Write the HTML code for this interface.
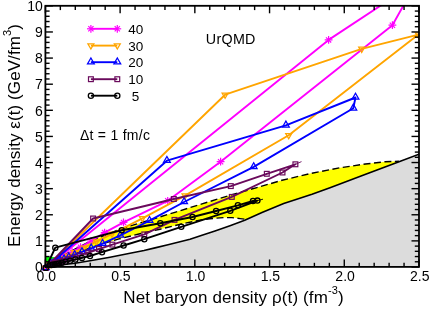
<!DOCTYPE html>
<html><head><meta charset="utf-8"><style>
html,body{margin:0;padding:0;background:#fff;}
body{width:429px;height:309px;position:relative;overflow:hidden;font-family:"Liberation Sans",sans-serif;color:#000;}
</style></head><body>
<svg width="429" height="309" viewBox="0 0 429 309" style="position:absolute;left:0;top:0">
<defs><clipPath id="cp"><rect x="45.4" y="5.8" width="373.6" height="261.1"/></clipPath><clipPath id="cp2"><rect x="40" y="5.8" width="379.9" height="265.1"/></clipPath></defs>
<g clip-path="url(#cp)">
<polygon fill="#dcdcdc" points="45.4,266.6 60.0,265.0 75.0,263.2 90.0,260.7 110.0,257.2 130.0,253.3 144.0,250.5 155.0,247.9 168.0,244.8 180.0,241.8 190.0,239.2 202.0,235.2 215.0,230.9 230.0,225.7 244.7,220.3 262.0,212.5 283.7,203.5 296.0,199.6 312.0,194.3 330.0,187.7 365.0,174.5 399.0,161.7 419.0,154.2 419,267 45.4,267"/>
<polygon fill="#ffff00" points="45.4,266.6 60.0,257.5 75.0,249.0 90.0,241.5 105.0,235.0 120.0,229.3 130.0,226.0 145.0,221.5 160.0,216.9 174.0,212.6 190.0,207.6 202.0,203.9 232.0,194.7 256.8,187.6 282.0,180.3 310.0,173.6 340.0,167.8 365.5,164.0 385.0,161.8 399.0,161.2 399.0,161.7 399.0,161.7 365.0,174.5 330.0,187.7 312.0,194.3 296.0,199.6 283.7,203.5 262.0,212.5 246.6,219.4 240.0,218.6 232.0,217.6 223.6,217.6 210.0,218.7 200.0,220.2 185.0,223.2 160.0,229.2 140.0,233.8 120.0,238.7 105.0,243.0 90.0,248.0 75.0,254.0 60.0,260.5 45.4,266.6"/>
<path d="M45.4 256.8 L54 256.9 C57.5 257.3 60 259 61.2 261.5 L61.5 263.5 L45.4 266.6Z" fill="#00ff00"/>
<polyline fill="none" stroke="#000" stroke-width="1.6" points="45.4,266.6 60.0,265.0 75.0,263.2 90.0,260.7 110.0,257.2 130.0,253.3 144.0,250.5 155.0,247.9 168.0,244.8 180.0,241.8 190.0,239.2 202.0,235.2 215.0,230.9 230.0,225.7 244.7,220.3 262.0,212.5 283.7,203.5 296.0,199.6 312.0,194.3 330.0,187.7 365.0,174.5 399.0,161.7 419.0,154.2"/>
<polyline fill="none" stroke="#000" stroke-width="1.4" stroke-dasharray="7 3.5" points="45.4,266.6 60.0,257.5 75.0,249.0 90.0,241.5 105.0,235.0 120.0,229.3 130.0,226.0 145.0,221.5 160.0,216.9 174.0,212.6 190.0,207.6 202.0,203.9 232.0,194.7 256.8,187.6 282.0,180.3 310.0,173.6 340.0,167.8 365.5,164.0 385.0,161.8 399.0,161.2"/>
<polyline fill="none" stroke="#000" stroke-width="1.4" stroke-dasharray="7 3.5" points="45.4,266.6 60.0,260.5 75.0,254.0 90.0,248.0 105.0,243.0 120.0,238.7 140.0,233.8 160.0,229.2 185.0,223.2 200.0,220.2 210.0,218.7 223.6,217.6 232.0,217.6 240.0,218.6 246.6,219.4"/>
</g>
<g clip-path="url(#cp2)">
<polyline fill="none" stroke="#ff00ff" stroke-width="1.90" stroke-linejoin="round" points="45.8,268.0 328.6,39.9 416.7,-18.2 392.4,25.2 220.6,161.7 167.7,200.8 123.5,222.4 104.6,232.6 91.0,241.0 80.5,247.2 72.0,252.0 65.6,255.5 60.8,258.2 57.1,260.2 54.3,261.7 52.1,262.9 50.5,263.8 49.3,264.5 48.4,265.0"/>
<g stroke="#ff00ff" stroke-width="1.2"><line x1="41.9" y1="268.0" x2="49.7" y2="268.0"/><line x1="43.2" y1="265.4" x2="48.4" y2="270.6"/><line x1="45.8" y1="264.1" x2="45.8" y2="271.9"/><line x1="48.4" y1="265.4" x2="43.2" y2="270.6"/></g>
<g stroke="#ff00ff" stroke-width="1.2"><line x1="324.7" y1="39.9" x2="332.5" y2="39.9"/><line x1="326.0" y1="37.3" x2="331.2" y2="42.5"/><line x1="328.6" y1="36.0" x2="328.6" y2="43.8"/><line x1="331.2" y1="37.3" x2="326.0" y2="42.5"/></g>
<g stroke="#ff00ff" stroke-width="1.2"><line x1="412.8" y1="-18.2" x2="420.6" y2="-18.2"/><line x1="414.1" y1="-20.8" x2="419.3" y2="-15.6"/><line x1="416.7" y1="-22.1" x2="416.7" y2="-14.3"/><line x1="419.3" y1="-20.8" x2="414.1" y2="-15.6"/></g>
<g stroke="#ff00ff" stroke-width="1.2"><line x1="388.5" y1="25.2" x2="396.3" y2="25.2"/><line x1="389.8" y1="22.6" x2="395.0" y2="27.8"/><line x1="392.4" y1="21.3" x2="392.4" y2="29.1"/><line x1="395.0" y1="22.6" x2="389.8" y2="27.8"/></g>
<g stroke="#ff00ff" stroke-width="1.2"><line x1="216.7" y1="161.7" x2="224.5" y2="161.7"/><line x1="218.0" y1="159.1" x2="223.2" y2="164.3"/><line x1="220.6" y1="157.8" x2="220.6" y2="165.6"/><line x1="223.2" y1="159.1" x2="218.0" y2="164.3"/></g>
<g stroke="#ff00ff" stroke-width="1.2"><line x1="163.8" y1="200.8" x2="171.6" y2="200.8"/><line x1="165.1" y1="198.2" x2="170.3" y2="203.4"/><line x1="167.7" y1="196.9" x2="167.7" y2="204.7"/><line x1="170.3" y1="198.2" x2="165.1" y2="203.4"/></g>
<g stroke="#ff00ff" stroke-width="1.2"><line x1="119.6" y1="222.4" x2="127.4" y2="222.4"/><line x1="120.9" y1="219.8" x2="126.1" y2="225.0"/><line x1="123.5" y1="218.5" x2="123.5" y2="226.3"/><line x1="126.1" y1="219.8" x2="120.9" y2="225.0"/></g>
<g stroke="#ff00ff" stroke-width="1.2"><line x1="100.7" y1="232.6" x2="108.5" y2="232.6"/><line x1="102.0" y1="230.0" x2="107.2" y2="235.2"/><line x1="104.6" y1="228.7" x2="104.6" y2="236.5"/><line x1="107.2" y1="230.0" x2="102.0" y2="235.2"/></g>
<g stroke="#ff00ff" stroke-width="1.2"><line x1="87.1" y1="241.0" x2="94.9" y2="241.0"/><line x1="88.4" y1="238.4" x2="93.6" y2="243.6"/><line x1="91.0" y1="237.1" x2="91.0" y2="244.9"/><line x1="93.6" y1="238.4" x2="88.4" y2="243.6"/></g>
<g stroke="#ff00ff" stroke-width="1.2"><line x1="76.6" y1="247.2" x2="84.4" y2="247.2"/><line x1="77.9" y1="244.6" x2="83.1" y2="249.8"/><line x1="80.5" y1="243.3" x2="80.5" y2="251.1"/><line x1="83.1" y1="244.6" x2="77.9" y2="249.8"/></g>
<g stroke="#ff00ff" stroke-width="1.2"><line x1="68.1" y1="252.0" x2="75.9" y2="252.0"/><line x1="69.4" y1="249.4" x2="74.6" y2="254.6"/><line x1="72.0" y1="248.1" x2="72.0" y2="255.9"/><line x1="74.6" y1="249.4" x2="69.4" y2="254.6"/></g>
<g stroke="#ff00ff" stroke-width="1.2"><line x1="61.7" y1="255.5" x2="69.5" y2="255.5"/><line x1="63.0" y1="252.9" x2="68.2" y2="258.1"/><line x1="65.6" y1="251.6" x2="65.6" y2="259.4"/><line x1="68.2" y1="252.9" x2="63.0" y2="258.1"/></g>
<g stroke="#ff00ff" stroke-width="1.2"><line x1="56.9" y1="258.2" x2="64.7" y2="258.2"/><line x1="58.1" y1="255.5" x2="63.4" y2="260.8"/><line x1="60.8" y1="254.3" x2="60.8" y2="262.1"/><line x1="63.4" y1="255.5" x2="58.1" y2="260.8"/></g>
<g stroke="#ff00ff" stroke-width="1.2"><line x1="53.2" y1="260.2" x2="61.0" y2="260.2"/><line x1="54.5" y1="257.6" x2="59.7" y2="262.8"/><line x1="57.1" y1="256.3" x2="57.1" y2="264.1"/><line x1="59.7" y1="257.6" x2="54.5" y2="262.8"/></g>
<g stroke="#ff00ff" stroke-width="1.2"><line x1="50.4" y1="261.7" x2="58.2" y2="261.7"/><line x1="51.7" y1="259.1" x2="56.9" y2="264.3"/><line x1="54.3" y1="257.8" x2="54.3" y2="265.6"/><line x1="56.9" y1="259.1" x2="51.7" y2="264.3"/></g>
<g stroke="#ff00ff" stroke-width="1.2"><line x1="48.2" y1="262.9" x2="56.0" y2="262.9"/><line x1="49.5" y1="260.3" x2="54.8" y2="265.5"/><line x1="52.1" y1="259.0" x2="52.1" y2="266.8"/><line x1="54.8" y1="260.3" x2="49.5" y2="265.5"/></g>
<g stroke="#ff00ff" stroke-width="1.2"><line x1="46.6" y1="263.8" x2="54.4" y2="263.8"/><line x1="47.9" y1="261.2" x2="53.1" y2="266.4"/><line x1="50.5" y1="259.9" x2="50.5" y2="267.7"/><line x1="53.1" y1="261.2" x2="47.9" y2="266.4"/></g>
<g stroke="#ff00ff" stroke-width="1.2"><line x1="45.4" y1="264.5" x2="53.2" y2="264.5"/><line x1="46.7" y1="261.8" x2="51.9" y2="267.1"/><line x1="49.3" y1="260.6" x2="49.3" y2="268.4"/><line x1="51.9" y1="261.8" x2="46.7" y2="267.1"/></g>
<g stroke="#ff00ff" stroke-width="1.2"><line x1="44.5" y1="265.0" x2="52.3" y2="265.0"/><line x1="45.7" y1="262.4" x2="51.0" y2="267.6"/><line x1="48.4" y1="261.1" x2="48.4" y2="268.9"/><line x1="51.0" y1="262.4" x2="45.7" y2="267.6"/></g>
<polyline fill="none" stroke="#ffa500" stroke-width="1.90" stroke-linejoin="round" points="45.8,268.0 225.1,94.7 361.7,48.9 418.4,34.6 288.7,135.3 185.0,195.6 142.4,218.3 112.0,233.8 96.4,241.6 84.0,247.7 74.5,252.4 67.5,255.8 62.2,258.4 58.2,260.4 55.1,261.9 52.8,263.0 51.0,263.9 49.7,264.5 48.6,265.0"/>
<path d="M42.8 266.3L48.8 266.3L45.8 271.5Z" fill="none" stroke="#ffa500" stroke-width="1.25"/>
<path d="M222.1 93.0L228.1 93.0L225.1 98.2Z" fill="none" stroke="#ffa500" stroke-width="1.25"/>
<path d="M358.7 47.2L364.7 47.2L361.7 52.4Z" fill="none" stroke="#ffa500" stroke-width="1.25"/>
<path d="M415.4 32.9L421.4 32.9L418.4 38.1Z" fill="none" stroke="#ffa500" stroke-width="1.25"/>
<path d="M285.7 133.6L291.7 133.6L288.7 138.8Z" fill="none" stroke="#ffa500" stroke-width="1.25"/>
<path d="M182.0 193.9L188.0 193.9L185.0 199.1Z" fill="none" stroke="#ffa500" stroke-width="1.25"/>
<path d="M139.4 216.6L145.4 216.6L142.4 221.8Z" fill="none" stroke="#ffa500" stroke-width="1.25"/>
<path d="M109.0 232.1L115.0 232.1L112.0 237.3Z" fill="none" stroke="#ffa500" stroke-width="1.25"/>
<path d="M93.4 239.9L99.4 239.9L96.4 245.1Z" fill="none" stroke="#ffa500" stroke-width="1.25"/>
<path d="M81.0 246.0L87.0 246.0L84.0 251.2Z" fill="none" stroke="#ffa500" stroke-width="1.25"/>
<path d="M71.5 250.7L77.5 250.7L74.5 255.9Z" fill="none" stroke="#ffa500" stroke-width="1.25"/>
<path d="M64.5 254.1L70.5 254.1L67.5 259.3Z" fill="none" stroke="#ffa500" stroke-width="1.25"/>
<path d="M59.2 256.7L65.2 256.7L62.2 261.9Z" fill="none" stroke="#ffa500" stroke-width="1.25"/>
<path d="M55.2 258.7L61.2 258.7L58.2 263.9Z" fill="none" stroke="#ffa500" stroke-width="1.25"/>
<path d="M52.1 260.2L58.1 260.2L55.1 265.4Z" fill="none" stroke="#ffa500" stroke-width="1.25"/>
<path d="M49.8 261.3L55.8 261.3L52.8 266.5Z" fill="none" stroke="#ffa500" stroke-width="1.25"/>
<path d="M48.0 262.2L54.0 262.2L51.0 267.4Z" fill="none" stroke="#ffa500" stroke-width="1.25"/>
<path d="M46.7 262.8L52.7 262.8L49.7 268.0Z" fill="none" stroke="#ffa500" stroke-width="1.25"/>
<path d="M45.6 263.3L51.6 263.3L48.6 268.5Z" fill="none" stroke="#ffa500" stroke-width="1.25"/>
<polyline fill="none" stroke="#0000ff" stroke-width="1.90" stroke-linejoin="round" points="45.8,268.0 166.9,160.7 285.9,125.3 355.5,97.5 353.3,108.3 253.7,166.9 184.1,202.0 149.5,220.6 120.3,235.3 102.6,243.7 91.2,248.3 82.0,251.9 74.7,254.9 68.8,257.2 64.1,259.1 60.4,260.6 57.4,261.8 55.0,262.8 53.1,263.5 51.5,264.1"/>
<path d="M42.4 269.7L49.2 269.7L45.8 263.8Z" fill="none" stroke="#0000ff" stroke-width="1.25"/>
<path d="M163.5 162.4L170.3 162.4L166.9 156.5Z" fill="none" stroke="#0000ff" stroke-width="1.25"/>
<path d="M282.5 127.0L289.3 127.0L285.9 121.1Z" fill="none" stroke="#0000ff" stroke-width="1.25"/>
<path d="M352.1 99.2L358.9 99.2L355.5 93.3Z" fill="none" stroke="#0000ff" stroke-width="1.25"/>
<path d="M349.9 110.0L356.7 110.0L353.3 104.1Z" fill="none" stroke="#0000ff" stroke-width="1.25"/>
<path d="M250.3 168.6L257.1 168.6L253.7 162.7Z" fill="none" stroke="#0000ff" stroke-width="1.25"/>
<path d="M180.7 203.7L187.5 203.7L184.1 197.8Z" fill="none" stroke="#0000ff" stroke-width="1.25"/>
<path d="M146.1 222.3L152.9 222.3L149.5 216.4Z" fill="none" stroke="#0000ff" stroke-width="1.25"/>
<path d="M116.9 237.0L123.7 237.0L120.3 231.1Z" fill="none" stroke="#0000ff" stroke-width="1.25"/>
<path d="M99.2 245.4L106.0 245.4L102.6 239.5Z" fill="none" stroke="#0000ff" stroke-width="1.25"/>
<path d="M87.8 250.0L94.6 250.0L91.2 244.1Z" fill="none" stroke="#0000ff" stroke-width="1.25"/>
<path d="M78.6 253.6L85.4 253.6L82.0 247.7Z" fill="none" stroke="#0000ff" stroke-width="1.25"/>
<path d="M71.3 256.6L78.1 256.6L74.7 250.7Z" fill="none" stroke="#0000ff" stroke-width="1.25"/>
<path d="M65.4 258.9L72.2 258.9L68.8 253.0Z" fill="none" stroke="#0000ff" stroke-width="1.25"/>
<path d="M60.7 260.8L67.5 260.8L64.1 254.9Z" fill="none" stroke="#0000ff" stroke-width="1.25"/>
<path d="M57.0 262.3L63.8 262.3L60.4 256.4Z" fill="none" stroke="#0000ff" stroke-width="1.25"/>
<path d="M54.0 263.5L60.8 263.5L57.4 257.6Z" fill="none" stroke="#0000ff" stroke-width="1.25"/>
<path d="M51.6 264.5L58.4 264.5L55.0 258.6Z" fill="none" stroke="#0000ff" stroke-width="1.25"/>
<path d="M49.7 265.2L56.5 265.2L53.1 259.3Z" fill="none" stroke="#0000ff" stroke-width="1.25"/>
<path d="M48.1 265.8L54.9 265.8L51.5 259.9Z" fill="none" stroke="#0000ff" stroke-width="1.25"/>
<polyline fill="none" stroke="#6a0a5c" stroke-width="1.90" stroke-linejoin="round" points="45.8,268.0 93.1,218.5 173.8,199.0 230.8,186.1 266.8,173.8 295.4,164.3 282.5,172.5 231.8,196.9 174.5,219.9 144.3,234.4 112.4,244.6 99.0,249.0 88.3,252.5 79.7,255.3 72.8,257.6 67.4,259.4 63.0,260.8 59.5,262.0 56.6,262.9 54.4,263.6 52.6,264.2"/>
<rect x="43.4" y="265.6" width="4.8" height="4.8" fill="none" stroke="#6a0a5c" stroke-width="1.20"/>
<rect x="90.7" y="216.1" width="4.8" height="4.8" fill="none" stroke="#6a0a5c" stroke-width="1.20"/>
<rect x="171.4" y="196.6" width="4.8" height="4.8" fill="none" stroke="#6a0a5c" stroke-width="1.20"/>
<rect x="228.4" y="183.7" width="4.8" height="4.8" fill="none" stroke="#6a0a5c" stroke-width="1.20"/>
<rect x="264.4" y="171.4" width="4.8" height="4.8" fill="none" stroke="#6a0a5c" stroke-width="1.20"/>
<rect x="293.0" y="161.9" width="4.8" height="4.8" fill="none" stroke="#6a0a5c" stroke-width="1.20"/>
<rect x="280.1" y="170.1" width="4.8" height="4.8" fill="none" stroke="#6a0a5c" stroke-width="1.20"/>
<rect x="229.4" y="194.5" width="4.8" height="4.8" fill="none" stroke="#6a0a5c" stroke-width="1.20"/>
<rect x="172.1" y="217.5" width="4.8" height="4.8" fill="none" stroke="#6a0a5c" stroke-width="1.20"/>
<rect x="141.9" y="232.0" width="4.8" height="4.8" fill="none" stroke="#6a0a5c" stroke-width="1.20"/>
<rect x="110.0" y="242.2" width="4.8" height="4.8" fill="none" stroke="#6a0a5c" stroke-width="1.20"/>
<rect x="96.6" y="246.6" width="4.8" height="4.8" fill="none" stroke="#6a0a5c" stroke-width="1.20"/>
<rect x="85.9" y="250.1" width="4.8" height="4.8" fill="none" stroke="#6a0a5c" stroke-width="1.20"/>
<rect x="77.3" y="252.9" width="4.8" height="4.8" fill="none" stroke="#6a0a5c" stroke-width="1.20"/>
<rect x="70.4" y="255.2" width="4.8" height="4.8" fill="none" stroke="#6a0a5c" stroke-width="1.20"/>
<rect x="65.0" y="257.0" width="4.8" height="4.8" fill="none" stroke="#6a0a5c" stroke-width="1.20"/>
<rect x="60.6" y="258.4" width="4.8" height="4.8" fill="none" stroke="#6a0a5c" stroke-width="1.20"/>
<rect x="57.1" y="259.6" width="4.8" height="4.8" fill="none" stroke="#6a0a5c" stroke-width="1.20"/>
<rect x="54.2" y="260.5" width="4.8" height="4.8" fill="none" stroke="#6a0a5c" stroke-width="1.20"/>
<rect x="52.0" y="261.2" width="4.8" height="4.8" fill="none" stroke="#6a0a5c" stroke-width="1.20"/>
<rect x="50.2" y="261.8" width="4.8" height="4.8" fill="none" stroke="#6a0a5c" stroke-width="1.20"/>
<polyline fill="none" stroke="#000000" stroke-width="1.90" stroke-linejoin="round" points="45.8,268.0 55.3,247.7 121.7,230.2 160.3,223.2 192.5,217.0 216.1,211.0 237.9,205.3 253.0,200.9 257.4,200.6 230.3,210.8 181.3,226.8 144.3,239.2 123.6,245.5 102.0,252.2 90.0,256.0 82.0,257.9 75.4,259.5 70.0,260.8 65.6,261.8 61.9,262.7 59.0,263.4 56.5,264.0 54.5,264.4 52.9,264.8 51.5,265.1"/>
<circle cx="45.8" cy="268.0" r="2.6" fill="none" stroke="#000000" stroke-width="1.30"/>
<circle cx="55.3" cy="247.7" r="2.6" fill="none" stroke="#000000" stroke-width="1.30"/>
<circle cx="121.7" cy="230.2" r="2.6" fill="none" stroke="#000000" stroke-width="1.30"/>
<circle cx="160.3" cy="223.2" r="2.6" fill="none" stroke="#000000" stroke-width="1.30"/>
<circle cx="192.5" cy="217.0" r="2.6" fill="none" stroke="#000000" stroke-width="1.30"/>
<circle cx="216.1" cy="211.0" r="2.6" fill="none" stroke="#000000" stroke-width="1.30"/>
<circle cx="237.9" cy="205.3" r="2.6" fill="none" stroke="#000000" stroke-width="1.30"/>
<circle cx="253.0" cy="200.9" r="2.6" fill="none" stroke="#000000" stroke-width="1.30"/>
<circle cx="257.4" cy="200.6" r="2.6" fill="none" stroke="#000000" stroke-width="1.30"/>
<circle cx="230.3" cy="210.8" r="2.6" fill="none" stroke="#000000" stroke-width="1.30"/>
<circle cx="181.3" cy="226.8" r="2.6" fill="none" stroke="#000000" stroke-width="1.30"/>
<circle cx="144.3" cy="239.2" r="2.6" fill="none" stroke="#000000" stroke-width="1.30"/>
<circle cx="123.6" cy="245.5" r="2.6" fill="none" stroke="#000000" stroke-width="1.30"/>
<circle cx="102.0" cy="252.2" r="2.6" fill="none" stroke="#000000" stroke-width="1.30"/>
<circle cx="90.0" cy="256.0" r="2.6" fill="none" stroke="#000000" stroke-width="1.30"/>
<circle cx="82.0" cy="257.9" r="2.6" fill="none" stroke="#000000" stroke-width="1.30"/>
<circle cx="75.4" cy="259.5" r="2.6" fill="none" stroke="#000000" stroke-width="1.30"/>
<circle cx="70.0" cy="260.8" r="2.6" fill="none" stroke="#000000" stroke-width="1.30"/>
<circle cx="65.6" cy="261.8" r="2.6" fill="none" stroke="#000000" stroke-width="1.30"/>
<circle cx="61.9" cy="262.7" r="2.6" fill="none" stroke="#000000" stroke-width="1.30"/>
<circle cx="59.0" cy="263.4" r="2.6" fill="none" stroke="#000000" stroke-width="1.30"/>
<circle cx="56.5" cy="264.0" r="2.6" fill="none" stroke="#000000" stroke-width="1.30"/>
<circle cx="54.5" cy="264.4" r="2.6" fill="none" stroke="#000000" stroke-width="1.30"/>
<circle cx="52.9" cy="264.8" r="2.6" fill="none" stroke="#000000" stroke-width="1.30"/>
<circle cx="51.5" cy="265.1" r="2.6" fill="none" stroke="#000000" stroke-width="1.30"/>
<line x1="295.4" y1="164.3" x2="301.5" y2="161.6" stroke="#6a0a5c" stroke-width="0.9"/>
<line x1="257.4" y1="200.6" x2="263" y2="199.2" stroke="#000" stroke-width="0.9"/>
</g>
<rect x="45.4" y="5.8" width="373.6" height="261.1" fill="none" stroke="#000" stroke-width="1.8"/>
<g stroke="#000" stroke-width="1.4"><line x1="45.40" y1="267.0" x2="45.40" y2="259.5"/><line x1="45.40" y1="5.8" x2="45.40" y2="13.3"/><line x1="60.34" y1="267.0" x2="60.34" y2="262.8"/><line x1="60.34" y1="5.8" x2="60.34" y2="10.1"/><line x1="75.29" y1="267.0" x2="75.29" y2="262.8"/><line x1="75.29" y1="5.8" x2="75.29" y2="10.1"/><line x1="90.23" y1="267.0" x2="90.23" y2="262.8"/><line x1="90.23" y1="5.8" x2="90.23" y2="10.1"/><line x1="105.18" y1="267.0" x2="105.18" y2="262.8"/><line x1="105.18" y1="5.8" x2="105.18" y2="10.1"/><line x1="120.12" y1="267.0" x2="120.12" y2="259.5"/><line x1="120.12" y1="5.8" x2="120.12" y2="13.3"/><line x1="135.06" y1="267.0" x2="135.06" y2="262.8"/><line x1="135.06" y1="5.8" x2="135.06" y2="10.1"/><line x1="150.01" y1="267.0" x2="150.01" y2="262.8"/><line x1="150.01" y1="5.8" x2="150.01" y2="10.1"/><line x1="164.95" y1="267.0" x2="164.95" y2="262.8"/><line x1="164.95" y1="5.8" x2="164.95" y2="10.1"/><line x1="179.90" y1="267.0" x2="179.90" y2="262.8"/><line x1="179.90" y1="5.8" x2="179.90" y2="10.1"/><line x1="194.84" y1="267.0" x2="194.84" y2="259.5"/><line x1="194.84" y1="5.8" x2="194.84" y2="13.3"/><line x1="209.78" y1="267.0" x2="209.78" y2="262.8"/><line x1="209.78" y1="5.8" x2="209.78" y2="10.1"/><line x1="224.73" y1="267.0" x2="224.73" y2="262.8"/><line x1="224.73" y1="5.8" x2="224.73" y2="10.1"/><line x1="239.67" y1="267.0" x2="239.67" y2="262.8"/><line x1="239.67" y1="5.8" x2="239.67" y2="10.1"/><line x1="254.62" y1="267.0" x2="254.62" y2="262.8"/><line x1="254.62" y1="5.8" x2="254.62" y2="10.1"/><line x1="269.56" y1="267.0" x2="269.56" y2="259.5"/><line x1="269.56" y1="5.8" x2="269.56" y2="13.3"/><line x1="284.50" y1="267.0" x2="284.50" y2="262.8"/><line x1="284.50" y1="5.8" x2="284.50" y2="10.1"/><line x1="299.45" y1="267.0" x2="299.45" y2="262.8"/><line x1="299.45" y1="5.8" x2="299.45" y2="10.1"/><line x1="314.39" y1="267.0" x2="314.39" y2="262.8"/><line x1="314.39" y1="5.8" x2="314.39" y2="10.1"/><line x1="329.34" y1="267.0" x2="329.34" y2="262.8"/><line x1="329.34" y1="5.8" x2="329.34" y2="10.1"/><line x1="344.28" y1="267.0" x2="344.28" y2="259.5"/><line x1="344.28" y1="5.8" x2="344.28" y2="13.3"/><line x1="359.22" y1="267.0" x2="359.22" y2="262.8"/><line x1="359.22" y1="5.8" x2="359.22" y2="10.1"/><line x1="374.17" y1="267.0" x2="374.17" y2="262.8"/><line x1="374.17" y1="5.8" x2="374.17" y2="10.1"/><line x1="389.11" y1="267.0" x2="389.11" y2="262.8"/><line x1="389.11" y1="5.8" x2="389.11" y2="10.1"/><line x1="404.06" y1="267.0" x2="404.06" y2="262.8"/><line x1="404.06" y1="5.8" x2="404.06" y2="10.1"/><line x1="419.00" y1="267.0" x2="419.00" y2="259.5"/><line x1="419.00" y1="5.8" x2="419.00" y2="13.3"/><line x1="45.4" y1="267.00" x2="52.9" y2="267.00"/><line x1="419.0" y1="267.00" x2="411.5" y2="267.00"/><line x1="45.4" y1="261.78" x2="49.6" y2="261.78"/><line x1="419.0" y1="261.78" x2="414.8" y2="261.78"/><line x1="45.4" y1="256.55" x2="49.6" y2="256.55"/><line x1="419.0" y1="256.55" x2="414.8" y2="256.55"/><line x1="45.4" y1="251.33" x2="49.6" y2="251.33"/><line x1="419.0" y1="251.33" x2="414.8" y2="251.33"/><line x1="45.4" y1="246.11" x2="49.6" y2="246.11"/><line x1="419.0" y1="246.11" x2="414.8" y2="246.11"/><line x1="45.4" y1="240.88" x2="52.9" y2="240.88"/><line x1="419.0" y1="240.88" x2="411.5" y2="240.88"/><line x1="45.4" y1="235.66" x2="49.6" y2="235.66"/><line x1="419.0" y1="235.66" x2="414.8" y2="235.66"/><line x1="45.4" y1="230.44" x2="49.6" y2="230.44"/><line x1="419.0" y1="230.44" x2="414.8" y2="230.44"/><line x1="45.4" y1="225.22" x2="49.6" y2="225.22"/><line x1="419.0" y1="225.22" x2="414.8" y2="225.22"/><line x1="45.4" y1="219.99" x2="49.6" y2="219.99"/><line x1="419.0" y1="219.99" x2="414.8" y2="219.99"/><line x1="45.4" y1="214.77" x2="52.9" y2="214.77"/><line x1="419.0" y1="214.77" x2="411.5" y2="214.77"/><line x1="45.4" y1="209.55" x2="49.6" y2="209.55"/><line x1="419.0" y1="209.55" x2="414.8" y2="209.55"/><line x1="45.4" y1="204.32" x2="49.6" y2="204.32"/><line x1="419.0" y1="204.32" x2="414.8" y2="204.32"/><line x1="45.4" y1="199.10" x2="49.6" y2="199.10"/><line x1="419.0" y1="199.10" x2="414.8" y2="199.10"/><line x1="45.4" y1="193.88" x2="49.6" y2="193.88"/><line x1="419.0" y1="193.88" x2="414.8" y2="193.88"/><line x1="45.4" y1="188.66" x2="52.9" y2="188.66"/><line x1="419.0" y1="188.66" x2="411.5" y2="188.66"/><line x1="45.4" y1="183.43" x2="49.6" y2="183.43"/><line x1="419.0" y1="183.43" x2="414.8" y2="183.43"/><line x1="45.4" y1="178.21" x2="49.6" y2="178.21"/><line x1="419.0" y1="178.21" x2="414.8" y2="178.21"/><line x1="45.4" y1="172.99" x2="49.6" y2="172.99"/><line x1="419.0" y1="172.99" x2="414.8" y2="172.99"/><line x1="45.4" y1="167.76" x2="49.6" y2="167.76"/><line x1="419.0" y1="167.76" x2="414.8" y2="167.76"/><line x1="45.4" y1="162.54" x2="52.9" y2="162.54"/><line x1="419.0" y1="162.54" x2="411.5" y2="162.54"/><line x1="45.4" y1="157.32" x2="49.6" y2="157.32"/><line x1="419.0" y1="157.32" x2="414.8" y2="157.32"/><line x1="45.4" y1="152.09" x2="49.6" y2="152.09"/><line x1="419.0" y1="152.09" x2="414.8" y2="152.09"/><line x1="45.4" y1="146.87" x2="49.6" y2="146.87"/><line x1="419.0" y1="146.87" x2="414.8" y2="146.87"/><line x1="45.4" y1="141.65" x2="49.6" y2="141.65"/><line x1="419.0" y1="141.65" x2="414.8" y2="141.65"/><line x1="45.4" y1="136.43" x2="52.9" y2="136.43"/><line x1="419.0" y1="136.43" x2="411.5" y2="136.43"/><line x1="45.4" y1="131.20" x2="49.6" y2="131.20"/><line x1="419.0" y1="131.20" x2="414.8" y2="131.20"/><line x1="45.4" y1="125.98" x2="49.6" y2="125.98"/><line x1="419.0" y1="125.98" x2="414.8" y2="125.98"/><line x1="45.4" y1="120.76" x2="49.6" y2="120.76"/><line x1="419.0" y1="120.76" x2="414.8" y2="120.76"/><line x1="45.4" y1="115.53" x2="49.6" y2="115.53"/><line x1="419.0" y1="115.53" x2="414.8" y2="115.53"/><line x1="45.4" y1="110.31" x2="52.9" y2="110.31"/><line x1="419.0" y1="110.31" x2="411.5" y2="110.31"/><line x1="45.4" y1="105.09" x2="49.6" y2="105.09"/><line x1="419.0" y1="105.09" x2="414.8" y2="105.09"/><line x1="45.4" y1="99.86" x2="49.6" y2="99.86"/><line x1="419.0" y1="99.86" x2="414.8" y2="99.86"/><line x1="45.4" y1="94.64" x2="49.6" y2="94.64"/><line x1="419.0" y1="94.64" x2="414.8" y2="94.64"/><line x1="45.4" y1="89.42" x2="49.6" y2="89.42"/><line x1="419.0" y1="89.42" x2="414.8" y2="89.42"/><line x1="45.4" y1="84.20" x2="52.9" y2="84.20"/><line x1="419.0" y1="84.20" x2="411.5" y2="84.20"/><line x1="45.4" y1="78.97" x2="49.6" y2="78.97"/><line x1="419.0" y1="78.97" x2="414.8" y2="78.97"/><line x1="45.4" y1="73.75" x2="49.6" y2="73.75"/><line x1="419.0" y1="73.75" x2="414.8" y2="73.75"/><line x1="45.4" y1="68.53" x2="49.6" y2="68.53"/><line x1="419.0" y1="68.53" x2="414.8" y2="68.53"/><line x1="45.4" y1="63.30" x2="49.6" y2="63.30"/><line x1="419.0" y1="63.30" x2="414.8" y2="63.30"/><line x1="45.4" y1="58.08" x2="52.9" y2="58.08"/><line x1="419.0" y1="58.08" x2="411.5" y2="58.08"/><line x1="45.4" y1="52.86" x2="49.6" y2="52.86"/><line x1="419.0" y1="52.86" x2="414.8" y2="52.86"/><line x1="45.4" y1="47.63" x2="49.6" y2="47.63"/><line x1="419.0" y1="47.63" x2="414.8" y2="47.63"/><line x1="45.4" y1="42.41" x2="49.6" y2="42.41"/><line x1="419.0" y1="42.41" x2="414.8" y2="42.41"/><line x1="45.4" y1="37.19" x2="49.6" y2="37.19"/><line x1="419.0" y1="37.19" x2="414.8" y2="37.19"/><line x1="45.4" y1="31.97" x2="52.9" y2="31.97"/><line x1="419.0" y1="31.97" x2="411.5" y2="31.97"/><line x1="45.4" y1="26.74" x2="49.6" y2="26.74"/><line x1="419.0" y1="26.74" x2="414.8" y2="26.74"/><line x1="45.4" y1="21.52" x2="49.6" y2="21.52"/><line x1="419.0" y1="21.52" x2="414.8" y2="21.52"/><line x1="45.4" y1="16.30" x2="49.6" y2="16.30"/><line x1="419.0" y1="16.30" x2="414.8" y2="16.30"/><line x1="45.4" y1="11.07" x2="49.6" y2="11.07"/><line x1="419.0" y1="11.07" x2="414.8" y2="11.07"/><line x1="45.4" y1="5.85" x2="52.9" y2="5.85"/><line x1="419.0" y1="5.85" x2="411.5" y2="5.85"/></g>
<line x1="90.9" y1="28.8" x2="117.3" y2="28.8" stroke="#ff00ff" stroke-width="1.9"/>
<g stroke="#ff00ff" stroke-width="1.2"><line x1="87.0" y1="28.8" x2="94.8" y2="28.8"/><line x1="88.3" y1="26.2" x2="93.5" y2="31.4"/><line x1="90.9" y1="24.9" x2="90.9" y2="32.7"/><line x1="93.5" y1="26.2" x2="88.3" y2="31.4"/></g>
<g stroke="#ff00ff" stroke-width="1.2"><line x1="113.4" y1="28.8" x2="121.2" y2="28.8"/><line x1="114.7" y1="26.2" x2="119.9" y2="31.4"/><line x1="117.3" y1="24.9" x2="117.3" y2="32.7"/><line x1="119.9" y1="26.2" x2="114.7" y2="31.4"/></g>
<line x1="90.9" y1="45.6" x2="117.3" y2="45.6" stroke="#ffa500" stroke-width="1.9"/>
<path d="M87.9 43.9L93.9 43.9L90.9 49.1Z" fill="none" stroke="#ffa500" stroke-width="1.25"/>
<path d="M114.3 43.9L120.3 43.9L117.3 49.1Z" fill="none" stroke="#ffa500" stroke-width="1.25"/>
<line x1="90.9" y1="62.2" x2="117.3" y2="62.2" stroke="#0000ff" stroke-width="1.9"/>
<path d="M87.5 63.9L94.3 63.9L90.9 58.0Z" fill="none" stroke="#0000ff" stroke-width="1.25"/>
<path d="M113.9 63.9L120.7 63.9L117.3 58.0Z" fill="none" stroke="#0000ff" stroke-width="1.25"/>
<line x1="90.9" y1="79.2" x2="117.3" y2="79.2" stroke="#6a0a5c" stroke-width="1.9"/>
<rect x="88.5" y="76.8" width="4.8" height="4.8" fill="none" stroke="#6a0a5c" stroke-width="1.20"/>
<rect x="114.9" y="76.8" width="4.8" height="4.8" fill="none" stroke="#6a0a5c" stroke-width="1.20"/>
<line x1="90.9" y1="95.7" x2="117.3" y2="95.7" stroke="#000000" stroke-width="1.9"/>
<circle cx="90.9" cy="95.7" r="2.6" fill="none" stroke="#000000" stroke-width="1.30"/>
<circle cx="117.3" cy="95.7" r="2.6" fill="none" stroke="#000000" stroke-width="1.30"/>
</svg>
<div style="position:absolute;left:0;top:0;width:429px;height:309px;will-change:transform;">
<div style="position:absolute;font-size:14.0px;line-height:1;white-space:nowrap;left:46.2px;transform:translateX(-50%);top:269.2px;">0.0</div>
<div style="position:absolute;font-size:14.0px;line-height:1;white-space:nowrap;left:120.9px;transform:translateX(-50%);top:269.2px;">0.5</div>
<div style="position:absolute;font-size:14.0px;line-height:1;white-space:nowrap;left:195.6px;transform:translateX(-50%);top:269.2px;">1.0</div>
<div style="position:absolute;font-size:14.0px;line-height:1;white-space:nowrap;left:270.4px;transform:translateX(-50%);top:269.2px;">1.5</div>
<div style="position:absolute;font-size:14.0px;line-height:1;white-space:nowrap;left:345.1px;transform:translateX(-50%);top:269.2px;">2.0</div>
<div style="position:absolute;font-size:14.0px;line-height:1;white-space:nowrap;left:419.8px;transform:translateX(-50%);top:269.2px;">2.5</div>
<div style="position:absolute;font-size:14.0px;line-height:1;white-space:nowrap;right:386.2px;top:260.1px;">0</div>
<div style="position:absolute;font-size:14.0px;line-height:1;white-space:nowrap;right:386.2px;top:234.0px;">1</div>
<div style="position:absolute;font-size:14.0px;line-height:1;white-space:nowrap;right:386.2px;top:207.9px;">2</div>
<div style="position:absolute;font-size:14.0px;line-height:1;white-space:nowrap;right:386.2px;top:181.8px;">3</div>
<div style="position:absolute;font-size:14.0px;line-height:1;white-space:nowrap;right:386.2px;top:155.7px;">4</div>
<div style="position:absolute;font-size:14.0px;line-height:1;white-space:nowrap;right:386.2px;top:129.6px;">5</div>
<div style="position:absolute;font-size:14.0px;line-height:1;white-space:nowrap;right:386.2px;top:103.5px;">6</div>
<div style="position:absolute;font-size:14.0px;line-height:1;white-space:nowrap;right:386.2px;top:77.3px;">7</div>
<div style="position:absolute;font-size:14.0px;line-height:1;white-space:nowrap;right:386.2px;top:51.2px;">8</div>
<div style="position:absolute;font-size:14.0px;line-height:1;white-space:nowrap;right:386.2px;top:25.1px;">9</div>
<div style="position:absolute;font-size:14.0px;line-height:1;white-space:nowrap;right:386.2px;top:-1.0px;">10</div>
<div style="position:absolute;font-size:13.5px;line-height:1;white-space:nowrap;right:285.8px;top:22.8px;">40</div>
<div style="position:absolute;font-size:13.5px;line-height:1;white-space:nowrap;right:285.8px;top:39.6px;">30</div>
<div style="position:absolute;font-size:13.5px;line-height:1;white-space:nowrap;right:285.8px;top:56.2px;">20</div>
<div style="position:absolute;font-size:13.5px;line-height:1;white-space:nowrap;right:285.8px;top:73.2px;">10</div>
<div style="position:absolute;font-size:13.5px;line-height:1;white-space:nowrap;right:289.8px;top:89.7px;">5</div>
<div style="position:absolute;font-size:14.3px;line-height:1;white-space:nowrap;left:205.8px;top:31.7px;letter-spacing:0.3px;">UrQMD</div>
<div style="position:absolute;font-size:14.0px;line-height:1;white-space:nowrap;left:79.9px;top:128.0px;letter-spacing:0.27px;">&Delta;t = 1 fm/c</div>
<div style="position:absolute;font-size:17.0px;line-height:1;white-space:nowrap;left:123.3px;top:289.4px;letter-spacing:0.12px;">Net baryon density &rho;(t) (fm<span style="font-size:11px;position:relative;top:-9px">-3</span>)</div>
<div style="position:absolute;left:20.0px;top:246.8px;font-size:17px;line-height:1;white-space:nowrap;transform-origin:0 0;transform:rotate(-90deg) translateY(-14.4px);letter-spacing:0.08px;">Energy density &epsilon;(t) (GeV/fm<span style="font-size:11px;position:relative;top:-9px">3</span>)</div>
</div>
</body></html>
